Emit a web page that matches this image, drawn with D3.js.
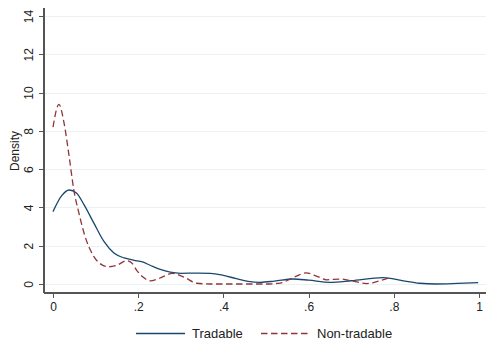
<!DOCTYPE html>
<meta charset="utf-8">
<style>
body { margin: 0; background: #fff; }
text { font-family: "Liberation Sans", Arial, sans-serif; fill: #222; }
.axis path, .axis line { stroke: #555; shape-rendering: crispEdges; }
</style>
<body>
<script src="https://d3js.org/d3.v7.min.js"></script>
<script>

var width = 489
var height = 360

// density estimates
var tradable_x = [0, 0.02, 0.038, 0.055, 0.073, 0.096, 0.12, 0.143, 0.167, 0.19, 0.21, 0.228, 0.25, 0.275, 0.3, 0.34, 0.37, 0.4, 0.43, 0.458, 0.486, 0.52, 0.563, 0.6, 0.65, 0.7, 0.775, 0.82, 0.86, 0.9, 0.95, 0.998]
var tradable_y = [3.78, 4.6, 4.91, 4.75, 4.13, 3.18, 2.21, 1.62, 1.36, 1.24, 1.15, 0.98, 0.78, 0.62, 0.56, 0.57, 0.56, 0.45, 0.28, 0.14, 0.09, 0.15, 0.26, 0.2, 0.09, 0.17, 0.33, 0.18, 0.04, 0.0, 0.03, 0.07]

var nontradable_x = [0, 0.014, 0.026, 0.038, 0.049, 0.061, 0.073, 0.096, 0.115, 0.13, 0.15, 0.173, 0.185, 0.196, 0.212, 0.228, 0.25, 0.28, 0.31, 0.337, 0.37, 0.45, 0.5, 0.533, 0.57, 0.594, 0.62, 0.642, 0.674, 0.705, 0.736, 0.76, 0.79]
var nontradable_y = [8.2, 9.38, 8.4, 6.65, 4.9, 3.69, 2.65, 1.43, 1.0, 0.9, 0.98, 1.22, 1.1, 0.73, 0.35, 0.16, 0.3, 0.55, 0.33, 0.04, 0.0, 0.0, 0.0, 0.05, 0.4, 0.58, 0.4, 0.22, 0.26, 0.15, 0.02, 0.12, 0.34]

var x_ticks = [0, 0.2, 0.4, 0.6, 0.8, 1]
var x_tick_labels = ["0", ".2", ".4", ".6", ".8", "1"]
var y_ticks = [0, 2, 4, 6, 8, 10, 12, 14]

var series_names = ["Tradable", "Non-tradable"]
var series_colors = ["#1a476f", "#90353b"]

var svg = d3.select("body").append("svg")
    .attr("width", width)
    .attr("height", height)

var plot = {left: 44, right: 486, top: 8, bottom: 293}

var x = d3.scaleLinear()
    .domain([0, 1])
    .range([53, 479])

var y = d3.scaleLinear()
    .domain([0, 14])
    .range([284, 16])

// grid
svg.append("g")
  .selectAll("line")
  .data(y_ticks)
  .enter().append("line")
    .attr("x1", plot.left)
    .attr("x2", plot.right)
    .attr("y1", function(d) { return Math.round(y(d)) + 0.5 })
    .attr("y2", function(d) { return Math.round(y(d)) + 0.5 })
    .attr("stroke", "#eaf2f3")
    .attr("stroke-width", 1)

// axes
var xAxis = d3.axisBottom(x)
    .tickValues(x_ticks)
    .tickFormat(function(d, i) { return x_tick_labels[i] })
    .tickSize(5)
    .tickPadding(4)

var yAxis = d3.axisLeft(y)
    .tickValues(y_ticks)
    .tickSize(5)

var xa = svg.append("g")
    .attr("class", "x axis")
    .attr("transform", "translate(0," + plot.bottom + ")")
    .call(xAxis)
xa.select(".domain").remove()
xa.append("line")
    .attr("x1", plot.left)
    .attr("x2", plot.right)
    .attr("stroke", "#555")
    .attr("stroke-width", 1.2)
xa.selectAll("text")
    .style("font-size", "12px")
    .attr("fill", "#222")

var ya = svg.append("g")
    .attr("class", "y axis")
    .attr("transform", "translate(" + plot.left + ",0)")
    .call(yAxis)
ya.select(".domain").remove()
ya.append("line")
    .attr("y1", plot.top)
    .attr("y2", plot.bottom)
    .attr("stroke", "#555")
    .attr("stroke-width", 1.2)
ya.selectAll(".tick text")
    .style("font-size", "12px")
    .attr("fill", "#222")
    .attr("x", null)
    .attr("dy", null)
    .attr("text-anchor", "middle")
    .attr("transform", "translate(-15,0) rotate(-90)")
    .attr("y", 4)

svg.append("text")
    .attr("transform", "translate(19,151) rotate(-90)")
    .attr("text-anchor", "middle")
    .style("font-size", "12px")
    .text("Density")

// curves
var line = d3.line()
    .x(function(d) { return x(d[0]) })
    .y(function(d) { return y(d[1]) })
    .curve(d3.curveMonotoneX)

var tradable = d3.zip(tradable_x, tradable_y)
var nontradable = d3.zip(nontradable_x, nontradable_y)

svg.append("path")
    .datum(tradable)
    .attr("fill", "none")
    .attr("stroke", series_colors[0])
    .attr("stroke-width", 1.3)
    .attr("d", line)

svg.append("path")
    .datum(nontradable)
    .attr("fill", "none")
    .attr("stroke", series_colors[1])
    .attr("stroke-width", 1.3)
    .attr("stroke-dasharray", "6.5,3.5")
    .attr("d", line)

// legend
var legend_items = [
  {x: 136, dash: null},
  {x: 261, dash: "6.5,3.5"}
]

legend_items.forEach(function(d, i) {
  svg.append("line")
      .attr("x1", d.x)
      .attr("x2", d.x + 49)
      .attr("y1", 333.5)
      .attr("y2", 333.5)
      .attr("stroke", series_colors[i])
      .attr("stroke-width", 1.3)
      .attr("stroke-dasharray", d.dash)
  svg.append("text")
      .attr("x", d.x + 56)
      .attr("y", 338)
      .style("font-size", "13px")
      .text(series_names[i])
})

</script>
